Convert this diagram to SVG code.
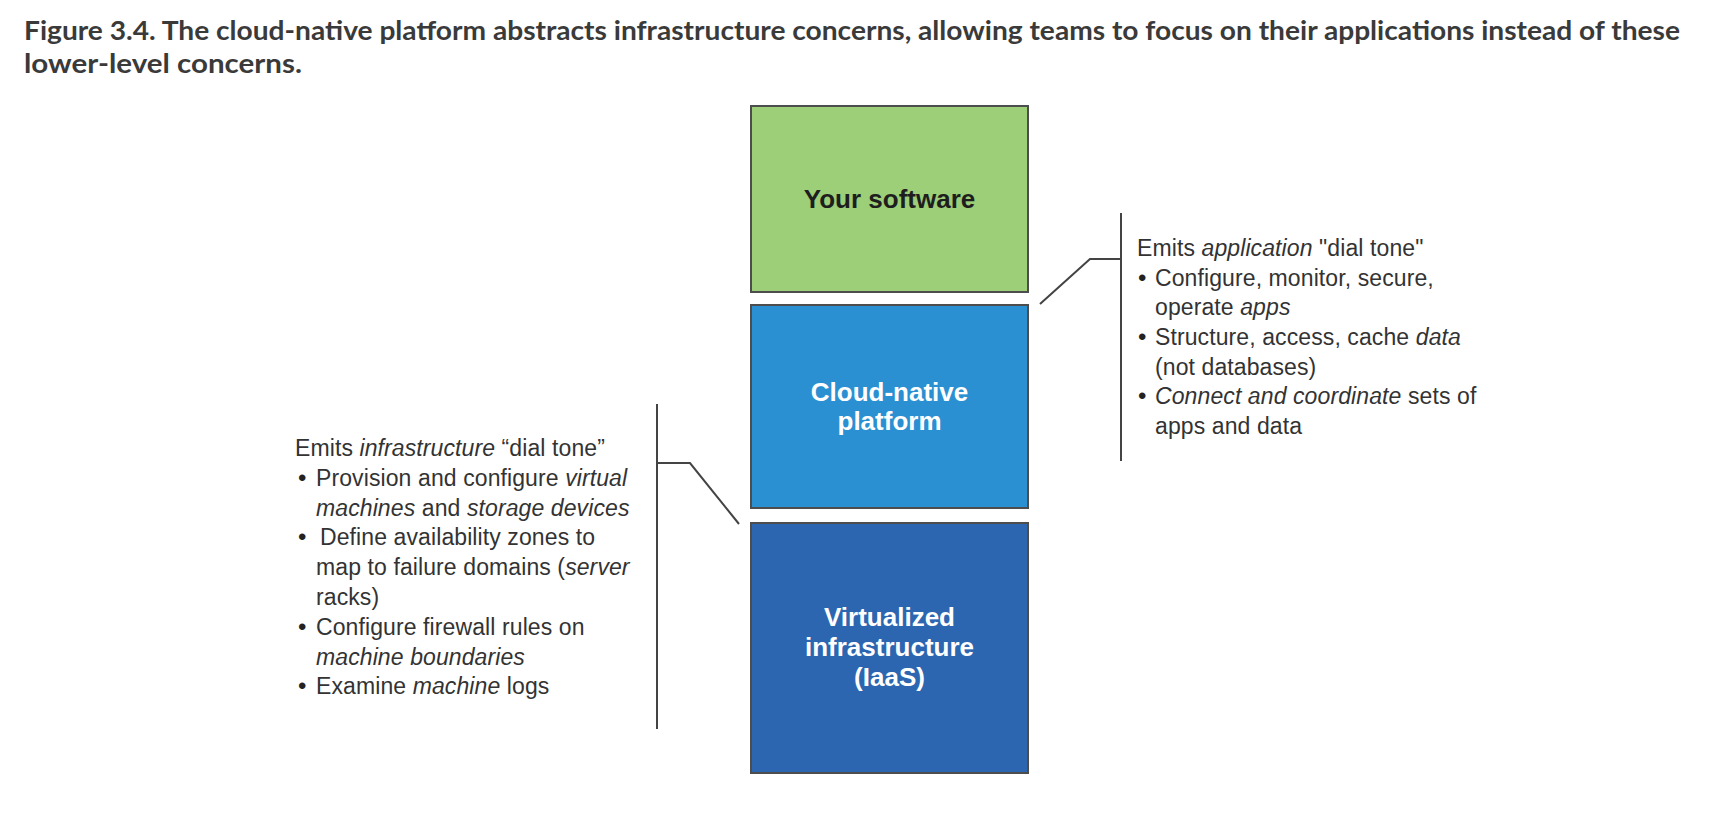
<svg xmlns="http://www.w3.org/2000/svg" width="1720" height="816" viewBox="0 0 1720 816">
<style>
.title{font-family:Lato,"Open Sans","Liberation Sans",sans-serif;font-weight:700;font-size:27px;fill:#3a3a3a}
.box{stroke:#4d4d4d;stroke-width:2}
.lbl{font-family:"Liberation Sans",Arial,sans-serif;font-weight:700;font-size:26px;text-anchor:middle}
.note{font-family:"Liberation Sans",Arial,sans-serif;font-size:23px;fill:#333;letter-spacing:0.1px}
.bul{font-family:"Liberation Sans",Arial,sans-serif;font-size:24px;fill:#222}
.conn{fill:none;stroke:#444;stroke-width:2}
</style>
<rect width="1720" height="816" fill="#ffffff"/>
<g id="title">
<text class="title" x="24" y="40" textLength="1656" lengthAdjust="spacingAndGlyphs">Figure 3.4. The cloud-native platform abstracts infrastructure concerns, allowing teams to focus on their applications instead of these</text>
<text class="title" x="24" y="73" textLength="278" lengthAdjust="spacingAndGlyphs">lower-level concerns.</text>
</g>
<g id="box-software">
<rect class="box" x="751" y="106" width="277" height="186" fill="#9ccf78"/>
<text class="lbl" x="889.5" y="208" fill="#1e1e1e">Your software</text>
</g>
<g id="box-platform">
<rect class="box" x="751" y="305" width="277" height="203" fill="#2a90d2"/>
<text class="lbl" x="889.5" y="401" fill="#ffffff">Cloud-native</text>
<text class="lbl" x="889.5" y="430" fill="#ffffff">platform</text>
</g>
<g id="box-iaas">
<rect class="box" x="751" y="523" width="277" height="250" fill="#2c66b1"/>
<text class="lbl" x="889.5" y="626" fill="#ffffff">Virtualized</text>
<text class="lbl" x="889.5" y="656" fill="#ffffff">infrastructure</text>
<text class="lbl" x="889.5" y="686" fill="#ffffff">(IaaS)</text>
</g>
<g id="connectors">
<polyline class="conn" points="1040,304 1090,259 1121,259"/>
<line class="conn" x1="1121" y1="213" x2="1121" y2="461"/>
<polyline class="conn" points="739,524 690,463 657,463"/>
<line class="conn" x1="657" y1="404" x2="657" y2="729"/>
</g>
<g id="note-app">
<text class="note" x="1137" y="256">Emits <tspan font-style="italic">application</tspan> "dial tone"</text>
<text class="bul" x="1138" y="286">•</text>
<text class="note" x="1155" y="286">Configure, monitor, secure,</text>
<text class="note" x="1155" y="315">operate <tspan font-style="italic">apps</tspan></text>
<text class="bul" x="1138" y="345">•</text>
<text class="note" x="1155" y="345">Structure, access, cache <tspan font-style="italic">data</tspan></text>
<text class="note" x="1155" y="375">(not databases)</text>
<text class="bul" x="1138" y="404">•</text>
<text class="note" x="1155" y="404"><tspan font-style="italic">Connect and coordinate</tspan> sets of</text>
<text class="note" x="1155" y="434">apps and data</text>
</g>
<g id="note-infra">
<text class="note" x="295" y="456">Emits <tspan font-style="italic">infrastructure</tspan> “dial tone”</text>
<text class="bul" x="298" y="486">•</text>
<text class="note" x="316" y="486">Provision and configure <tspan font-style="italic">virtual</tspan></text>
<text class="note" x="316" y="516"><tspan font-style="italic">machines</tspan> and <tspan font-style="italic">storage devices</tspan></text>
<text class="bul" x="298" y="545">•</text>
<text class="note" x="320" y="545">Define availability zones to</text>
<text class="note" x="316" y="575">map to failure domains (<tspan font-style="italic">server</tspan></text>
<text class="note" x="316" y="605">racks)</text>
<text class="bul" x="298" y="635">•</text>
<text class="note" x="316" y="635">Configure firewall rules on</text>
<text class="note" x="316" y="665"><tspan font-style="italic">machine boundaries</tspan></text>
<text class="bul" x="298" y="694">•</text>
<text class="note" x="316" y="694">Examine <tspan font-style="italic">machine</tspan> logs</text>
</g>
</svg>
